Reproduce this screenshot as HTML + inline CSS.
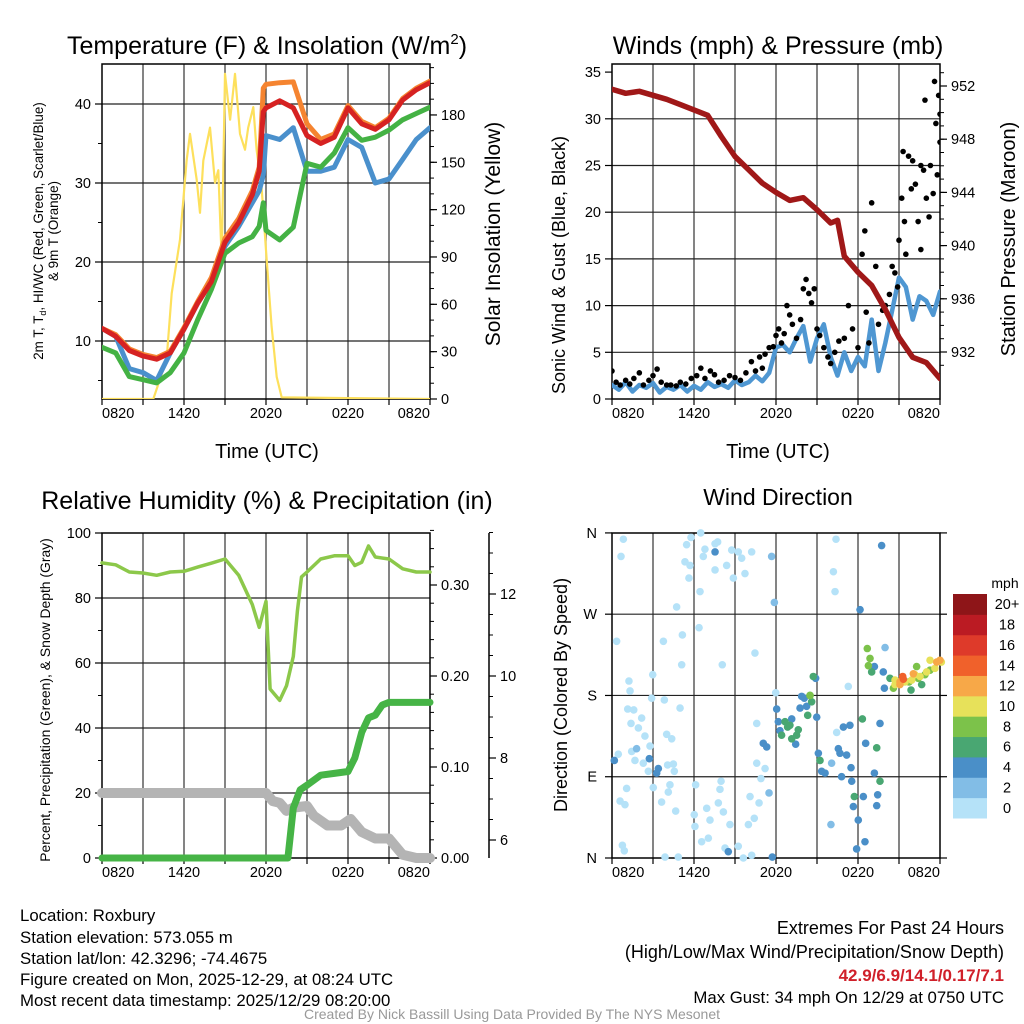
<!DOCTYPE html>
<html><head><meta charset="utf-8"><title>Roxbury Meteogram</title>
<style>
html,body{margin:0;padding:0;background:#fff;}
svg{display:block;font-family:"Liberation Sans",Arial,sans-serif;}
</style></head>
<body>
<svg id="chart" xmlns="http://www.w3.org/2000/svg" width="1024" height="1024" viewBox="0 0 1024 1024">
<defs>
<clipPath id="c1"><rect x="102" y="64" width="328" height="335"/></clipPath>
<clipPath id="c2"><rect x="612" y="64" width="328" height="335"/></clipPath>
<clipPath id="c3"><rect x="96" y="527" width="344" height="340"/></clipPath>
<clipPath id="c4"><rect x="606" y="527" width="340" height="337"/></clipPath>
</defs>
<rect width="1024" height="1024" fill="#fff"/>
<g id="frames"></g>
<g id="marks"></g>
<g id="texts">
<text x="267" y="54" font-size="25" text-anchor="middle">Temperature (F) &amp; Insolation (W/m<tspan font-size="15" dy="-10">2</tspan><tspan dy="10">)</tspan></text>
<text x="778" y="54" font-size="25" text-anchor="middle">Winds (mph) &amp; Pressure (mb)</text>
<text x="267" y="509" font-size="25" text-anchor="middle">Relative Humidity (%) &amp; Precipitation (in)</text>
<text x="778" y="505" font-size="23" text-anchor="middle">Wind Direction</text>
<text x="267" y="458" font-size="20" text-anchor="middle">Time (UTC)</text>
<text x="778" y="458" font-size="20" text-anchor="middle">Time (UTC)</text>
<text transform="translate(43,231) rotate(-90)" font-size="13.4" text-anchor="middle">2m T, T<tspan font-size="9" dy="3">d</tspan><tspan dy="-3">, HI/WC (Red, Green, Scarlet/Blue)</tspan></text>
<text transform="translate(58,231) rotate(-90)" font-size="13.4" text-anchor="middle">&amp; 9m T (Orange)</text>
<text transform="translate(500,234) rotate(-90)" font-size="21" text-anchor="middle">Solar Insolation (Yellow)</text>
<text transform="translate(565,265) rotate(-90)" font-size="18" text-anchor="middle">Sonic Wind &amp; Gust (Blue, Black)</text>
<text transform="translate(1015,239) rotate(-90)" font-size="20" text-anchor="middle">Station Pressure (Maroon)</text>
<text transform="translate(50,700) rotate(-90)" font-size="13.9" text-anchor="middle">Percent, Precipitation (Green), &amp; Snow Depth (Gray)</text>
<text transform="translate(567,695) rotate(-90)" font-size="18" text-anchor="middle">Direction (Colored By Speed)</text>
<text x="1005" y="588" font-size="14" text-anchor="middle">mph</text>
<g font-size="16.8">
<text x="20" y="921">Location: Roxbury</text>
<text x="20" y="943">Station elevation: 573.055 m</text>
<text x="20" y="964">Station lat/lon: 42.3296; -74.4675</text>
<text x="20" y="985">Figure created on Mon, 2025-12-29, at 08:24 UTC</text>
<text x="20" y="1006">Most recent data timestamp: 2025/12/29 08:20:00</text>
</g>
<g font-size="18" text-anchor="end">
<text x="1004" y="934">Extremes For Past 24 Hours</text>
<text x="1004" y="958">(High/Low/Max Wind/Precipitation/Snow Depth)</text>
<text x="1004" y="981" fill="#d0202a" font-weight="bold" font-size="17">42.9/6.9/14.1/0.17/7.1</text>
<text x="1004" y="1003" font-size="16.8">Max Gust: 34 mph On 12/29 at 0750 UTC</text>
</g>
<text x="512" y="1019" font-size="14" fill="#999" text-anchor="middle">Created By Nick Bassill Using Data Provided By The NYS Mesonet</text>
</g>
</svg>
<script>
// ---- data ----
const tempTimes = [0,1,2,3,4,5,6,7,8,9,10,11,11.5,11.8,12,13,14,15,16,17,18,19,20,21,22,23,24];
const tempRed = [11.6,10.6,8.8,8.1,7.7,8.5,11.5,14.8,17.5,22.5,25,28.5,31.5,39,39.5,40.4,39.5,36,35,35.8,39.5,37.5,36.8,38,40.5,41.8,42.7];
const tempOrange = [11.6,10.8,9,8.3,7.9,8.7,11.7,15,18,23,25.5,29,32,42,42.5,42.7,42.8,37.5,35.5,36.2,39.8,37.8,37,38.2,40.7,42,42.9];
const tempGreen = [9.2,8.5,5.5,5.1,4.7,6,8.5,12.7,16.5,21.1,22.4,23.2,24.5,27.5,24,22.8,24.4,32.5,32,33.8,37,35.4,35.8,36.7,38,38.8,39.6];
const tempBlue = [11.6,10.6,6.5,6,5,8.5,11.5,14.8,17.5,22,24.5,27.5,29,31,36,35.5,37,31.5,31.5,32,35.5,34.5,30,30.5,33,35.5,37];
const solarTimes = [0,3.75,4.73,5.1,5.71,6.19,6.44,6.93,7.17,7.41,7.9,8.27,8.51,8.76,9.0,9.37,9.73,10.1,10.46,10.7,11.07,11.31,11.68,12.05,12.41,12.78,13.15,24];
const solarValues = [0,0,25,67,101,151,168,139,118,151,172,137,145,88,206,177,206,168,158,172,185,158,134,88,46,14,1,0];

const windTimes = [0,0.5,1,1.5,2,2.5,3,3.5,4,4.5,5,5.5,6,6.5,7,7.5,8,8.5,9,9.5,10,10.5,11,11.5,12,12.5,13,13.5,14,14.5,15,15.5,16,16.5,17,17.5,18,18.5,19,19.5,20,20.5,21,21.5,22,22.5,23,23.5,24];
const windSpeed = [1.5,1.0,1.8,0.8,1.5,1.2,1.7,0.7,1.3,1.0,1.5,0.8,1.4,1.0,1.8,1.3,1.6,1.2,2.0,1.5,1.8,2.5,1.9,2.8,5.5,5.8,5.0,6.5,7.8,4.0,6.5,8.0,4.5,2.5,5.0,3.0,4.5,3.5,8.5,3.0,6.0,9.5,13.0,12.0,8.5,11.0,10.5,9.0,11.5];
const gustTimes = [0,0.3,0.6,1,1.3,1.6,2,2.3,2.7,3,3.3,3.6,4,4.3,4.7,5,5.4,5.8,6.2,6.5,6.8,7.2,7.5,7.8,8.2,8.6,9,9.4,9.8,10.2,10.5,10.8,11,11.2,11.5,11.8,12,12.2,12.4,12.6,12.8,13,13.2,13.5,13.8,14,14.2,14.4,14.6,14.8,15,15.2,15.5,15.8,16,16.3,16.6,17,17.3,17.6,18,18.3,18.5,18.6,18.8,19,19.3,19.5,19.8,20,20.3,20.5,20.7,20.9,21,21.2,21.3,21.4,21.5,21.7,21.9,22,22.2,22.4,22.6,22.6,22.8,22.9,23,23.2,23.3,23.5,23.6,23.7,23.8,23.9,24,24];
const gustValues = [3.0,1.8,1.5,2.0,1.6,2.2,2.8,1.5,2.0,2.5,3.2,1.8,1.5,1.5,1.4,1.8,1.6,2.2,2.5,3.3,2.2,3.0,2.6,1.8,2.0,2.5,2.3,2.0,2.8,4.0,3.0,4.5,3.3,4.8,5.5,5.6,6.8,7.5,6.0,7.0,10.0,9.0,8.0,6.5,8.5,11.8,12.8,11.3,10.3,11.8,7.5,6.8,5.5,4.5,3.8,5.0,6.2,6.5,10.0,7.5,5.5,15.5,18.0,9.3,6.0,21.0,14.2,8.0,9.5,10.0,11.2,14.2,13.5,12.0,17.0,21.5,26.5,19.0,15.5,26.0,22.5,25.5,23.0,19.0,25.0,16.0,24.5,32.0,21.5,19.5,25.0,22.0,34.0,29.5,24.0,32.5,27.5,30.5];
const pressTimes = [0,1,2,3,4,5,6,7,8,9,10,11,12,13,14,15,16,16.5,17,18,19,20,21,22,23,24];
const pressValues = [951.75,951.45,951.6,951.3,951.0,950.6,950.2,949.8,948.2,946.7,945.7,944.7,944.0,943.4,943.6,942.7,941.7,941.9,939.2,938.0,937.0,935.2,933.1,931.6,931.2,930.0];

const rhTimes = [0,1,2,3,4,5,6,7,8,9,10,11,11.5,12,12.3,13,13.5,14,14.3,14.6,15,16,17,18,18.5,19,19.5,20,21,22,23,24];
const rhValues = [90.8,90.2,88,87.7,87,88,88.2,89.5,90.7,92,87,78,71,79,52,48.5,53,62,76,86.5,88,92,93,93,90,91,96,92.6,92,89,88,88];
const precipTimes = [0,13.6,14,14.5,15,16,17,18,18.5,19,19.5,20,20.5,21,24];
const precipValues = [0,0,0.055,0.075,0.08,0.091,0.093,0.095,0.11,0.138,0.154,0.157,0.168,0.171,0.171];
const snowTimes = [0,12,12.5,13,13.5,14,15,15.5,16.5,17.5,18.2,19,20,21,22,23,24];
const snowPct = [20,20,17.5,17,14.5,15.5,16,13,10,10,12,8,6,6,1,0,0];

const dirTimes = [0.83,0.66,5.78,5.46,6.49,6.8,6.68,7.54,7.73,5.34,5.71,5.63,6.44,4.73,8.76,9.24,10.22,9.49,8.39,7.54,8.88,9.73,16.39,16.2,16.32,0.34,3.76,5.15,6.37,10.46,8.07,5.1,2.98,1.24,1.32,2.9,3.83,4.98,1.15,1.59,2.17,1.39,1.93,2.41,4.0,4.37,2.78,1.44,0.46,1.68,2.29,2.66,4.07,4.49,4.56,1.07,3.02,4.24,4.12,3.63,0.59,0.95,4.66,6.02,6.07,6.12,7.98,7.9,7.78,8.15,6.93,7.17,7.05,6.56,8.63,10.1,10.76,10.41,9.98,0.76,0.9,3.88,4.85,8.27,9.24,9.61,10.22,10.59,10.59,11.2,10.9,16.44,17.29,11.98,
11.68,11.88,1.8,11.49,19.98,16.07,16.02,
7.54,19.73,18.15,0.17,2.73,3.27,3.39,11.07,11.32,12.05,12.17,12.29,13.15,13.44,13.88,13.76,14.24,14.07,14.9,14.98,15.1,15.34,15.59,16.56,16.68,17.17,16.93,17.41,17.49,17.54,16.8,17.66,18.39,18.02,19.37,19.44,19.2,19.61,18.56,17.9,18.51,8.51,11.73,19.2,19.85,19.93,
12.41,12.66,12.85,13.02,13.15,13.51,13.63,14.73,14.49,14.61,14.32,15.22,17.73,18.32,19.37,19.61,19.0,21.88,22.66,20.34,
18.68,18.88,18.76,20.59,22.29,22.41,21.73,23.27,22.9,14.49,
20.71,20.95,21.44,21.93,22.17,22.54,23.02,23.27,23.63,24.1,20.71,
21.07,22.05,23.76,24.0,21.07,21.27,21.32];
const dirDegs = [353,334,355,347,360,342,334,348,350,328,324,310,295,278,341,339,339,332,324,319,310,315,353,317,295,240,240,247,255,227,214,214,203,196,185,177,175,166,165,164,155,149,144,135,137,132,124,118,115,108,105,96,103,104,96,77,78,81,73,62,63,59,52,48,35,81,85,76,61,51,55,42,22,18,37,68,61,44,37,14,8,1,1,11,13,0,3,149,105,99,88,139,190,183,
334,283,121,72,233,105,37,
339,346,275,108,110,94,99,127,123,165,151,141,154,126,179,166,168,177,199,156,116,96,94,121,116,114,145,147,100,85,90,57,68,42,58,70,94,149,127,10,18,7,1,212,206,188,
136,151,145,147,132,136,142,201,180,173,158,108,68,154,122,85,206,186,192,199,
232,221,213,188,212,199,195,208,203,180,
197,195,195,197,203,201,206,219,210,217,192,
192,204,217,219,195,201,198];
const dirSpeeds = [1,1,1,1,1,1,1,1,1,1,1,1,1,1,1,1,1,1,1,1,1,1,1,1,1,1,1,1,1,1,1,1,1,1,1,1,1,1,1,1,1,1,1,1,1,1,1,1,1,1,1,1,1,1,1,1,1,1,1,1,1,1,1,1,1,1,1,1,1,1,1,1,1,1,1,1,1,1,1,1,1,1,1,1,1,1,1,1,1,1,1,1,1,1,
3,3,3,3,3,3,3,
5,5,5,5,5,5,5,5,5,5,5,5,5,5,5,5,5,5,5,5,5,5,5,5,5,5,5,5,5,5,5,5,5,5,5,5,5,5,5,5,5,5,5,5,5,5,
7,7,7,7,7,7,7,7,7,7,7,7,7,7,7,7,7,7,7,7,
9,9,9,9,9,9,9,9,9,8.5,
11,11,11,11,11,11,11,11,11,11,11,
13,13,13,13,13,15,15];
const speedColors = ['#b5e2f8','#82bde6','#4a8fc8','#49a772','#7cc24a','#e7e15a','#f7a848','#f0612b','#de3a2a','#bb1b23','#8e1518'];
const speedLabels = ['0','2','4','6','8','10','12','14','16','18','20+'];
const timeTickLabels = ['0820','1420','2020','0220','0820'];
const timeTickHours = [0,6,12,18,24];
const tempTicks = [10,20,30,40];
const solarTicks = [0,30,60,90,120,150,180];
const windTicks = [0,5,10,15,20,25,30,35];
const pressTicks = [932,936,940,944,948,952];
const pctTicks = [0,20,40,60,80,100];
const precipTicks = [0,0.1,0.2,0.3];
const snowTicks = [6,8,10,12];
const dirTicks = [0,90,180,270,360];
const dirTickLabels = ['N','E','S','W','N'];

// ---- scales ----
const NS = 'http://www.w3.org/2000/svg';
const frames = document.getElementById('frames');
const marks = document.getElementById('marks');
function mk(parent, tag, attrs, txt){
  const e = document.createElementNS(NS, tag);
  for (const k in attrs) e.setAttribute(k, attrs[k]);
  if (txt !== undefined) e.textContent = txt;
  parent.appendChild(e);
  return e;
}
const HPX = 328/24;
const xL = h => 102 + h*HPX;
const xR = h => 612 + h*HPX;
const yTemp = v => 341 - (v-10)*7.9;
const ySolar = v => 399 - v*1.578;
const yWind = v => 399 - v*9.34;
const yPress = v => 86 + (952-v)*13.3;
const yPct = v => 858 - v*3.25;
const yPrecip = v => 858 - v*910;
const ySnow = v => 840 - (v-6)*41;
const yDir = v => 858 - v*0.903;

function panelFrame(x0, y0, x1, y1, xf, hGrid, name){
  const g = mk(frames, 'g', {});
  
  
  for (let h = 3; h < 24; h += 3) {
    const l = mk(g, 'line', {x1:xf(h), x2:xf(h), y1:y0, y2:y1, stroke:'#333', 'stroke-width':1.2});
    
    
  }
  hGrid.forEach(y => {
    const l = mk(g, 'line', {x1:x0, x2:x1, y1:y, y2:y, stroke:'#222', 'stroke-width':1.2});
    
    
  });
  const r = mk(g, 'rect', {x:x0, y:y0, width:x1-x0, height:y1-y0, fill:'none', stroke:'#000', 'stroke-width':1.5});
  
  
  for (let h = 0; h <= 24; h += 3) {
    const t = mk(g, 'line', {x1:xf(h), x2:xf(h), y1:y1, y2:y1+6, stroke:'#000', 'stroke-width':1.2});
    
    
  }
  timeTickHours.forEach((h, i) => {
    const anchor = i === 0 ? 'start' : (i === timeTickHours.length-1 ? 'end' : 'middle');
    const t = mk(g, 'text', {x:xf(h), y:y1+19, 'font-size':14.5, 'text-anchor':anchor}, timeTickLabels[i]);
    
    
  });
}
function yAxis(x, vals, yf, fmt, side, name, minorVals){
  const g = mk(frames, 'g', {});
  
  
  const d = side === 'left' ? -1 : 1;
  vals.forEach(v => {
    const y = yf(v);
    const l = mk(g, 'line', {x1:x, x2:x+d*7, y1:y, y2:y, stroke:'#000', 'stroke-width':1.2});
    
    
    const t = mk(g, 'text', {x:x+d*11, y:y+5, 'font-size':14.5, 'text-anchor': side==='left'?'end':'start'}, fmt(v));
    
    
  });
  (minorVals||[]).forEach(v => {
    const y = yf(v);
    const l = mk(g, 'line', {x1:x, x2:x+d*4, y1:y, y2:y, stroke:'#000', 'stroke-width':1});
    
    
  });
}
function range(a, b, s){ const r=[]; for(let v=a; v<=b+1e-9; v+=s) r.push(+v.toFixed(4)); return r; }

panelFrame(102, 64, 430, 399, xL, tempTicks.map(yTemp), 'temperature');
yAxis(102, tempTicks, yTemp, v=>String(v), 'left', 'temperature-y-axis', [5,15,25,35]);
yAxis(430, solarTicks, ySolar, v=>String(v), 'right', 'solar-y-axis', range(0,210,10));
panelFrame(612, 64, 940, 399, xR, [5,10,15,20,25,30].map(yWind), 'wind');
yAxis(612, windTicks, yWind, v=>String(v), 'left', 'wind-y-axis', []);
yAxis(940, pressTicks, yPress, v=>String(v), 'right', 'pressure-y-axis', range(931,953,1));
panelFrame(102, 533, 430, 858, xL, [20,40,60,80].map(yPct), 'humidity');
yAxis(102, pctTicks, yPct, v=>String(v), 'left', 'humidity-y-axis', [10,30,50,70,90]);
yAxis(430, precipTicks, yPrecip, v=>v.toFixed(2), 'right', 'precip-y-axis', range(0,0.36,0.02));
{
  const l = mk(frames, 'line', {x1:489, x2:489, y1:533, y2:858, stroke:'#000', 'stroke-width':1.5});
  
  
}
yAxis(489, snowTicks, ySnow, v=>String(v), 'right', 'snow-y-axis', range(6,13.5,0.5));
panelFrame(612, 533, 940, 858, xR, [90,180,270].map(yDir), 'direction');
{
  const g = mk(frames, 'g', {});
  
  
  dirTicks.forEach((v, i) => {
    const y = yDir(v);
    const l = mk(g, 'line', {x1:612, x2:605, y1:y, y2:y, stroke:'#000', 'stroke-width':1.2});
    
    
    const t = mk(g, 'text', {x:597, y:y+5, 'font-size':14.5, 'text-anchor':'end'}, dirTickLabels[i]);
    
    
    const r = mk(g, 'line', {x1:940, x2:947, y1:y, y2:y, stroke:'#000', 'stroke-width':1.2});
    
    
  });
}

function line(parent, times, vals, xf, yf, color, w, clip, name){
  const d = times.map((t,i) => (i?'L':'M') + xf(t).toFixed(1) + ',' + yf(vals[i]).toFixed(1)).join('');
  const p = mk(parent, 'path', {d:d, fill:'none', stroke:color, 'stroke-width':w, 'stroke-linejoin':'round', 'stroke-linecap':'round', 'clip-path':'url(#'+clip+')'});
  
  
  return p;
}
line(marks, solarTimes, solarValues, xL, ySolar, '#fde05c', 2.2, 'c1', 'solar-insolation-line');
line(marks, tempTimes, tempBlue, xL, yTemp, '#4a90cc', 5, 'c1', 'wind-chill-line');
line(marks, tempTimes, tempGreen, xL, yTemp, '#44b244', 5, 'c1', 'dewpoint-line');
line(marks, tempTimes, tempOrange, xL, yTemp, '#f58430', 5, 'c1', 'temp-9m-line');
line(marks, tempTimes, tempRed, xL, yTemp, '#d62222', 5, 'c1', 'temp-2m-line');
line(marks, windTimes, windSpeed, xR, yWind, '#4f97d2', 4.5, 'c2', 'sonic-wind-line');
{
  const g = mk(marks, 'g', {'clip-path':'url(#c2)'});
  
  
  gustTimes.forEach((t, i) => {
    const c = mk(g, 'circle', {cx:xR(t), cy:yWind(gustValues[i]), r:2.8, fill:'#000'});
    
    
  });
}
line(marks, pressTimes, pressValues, xR, yPress, '#a01818', 5.5, 'c2', 'pressure-line');
line(marks, snowTimes, snowPct, xL, yPct, '#b4b4b4', 10, 'c3', 'snow-depth-line');
line(marks, precipTimes, precipValues, xL, yPrecip, '#46b446', 7, 'c3', 'precipitation-line');
line(marks, rhTimes, rhValues, xL, yPct, '#8cc84a', 3.5, 'c3', 'relative-humidity-line');
{
  const g = mk(marks, 'g', {'clip-path':'url(#c4)'});
  
  
  dirTimes.forEach((t, i) => {
    const idx = Math.min(10, Math.floor(dirSpeeds[i]/2));
    const c = mk(g, 'circle', {cx:xR(t), cy:yDir(dirDegs[i]), r:3.8, fill:speedColors[idx]});
    
    
  });
}
{
  const g = mk(marks, 'g', {});
  
  
  const top = 594, bh = 224/11;
  speedColors.forEach((col, i) => {
    const y = top + (10-i)*bh;
    const r = mk(g, 'rect', {x:953, y:y, width:34, height:bh+0.5, fill:col});
    
    
    const t = mk(g, 'text', {x:1007, y:y+bh/2+5, 'font-size':14.5, 'text-anchor':'middle'}, speedLabels[i]);
    
    
  });
}
</script>
</body></html>
